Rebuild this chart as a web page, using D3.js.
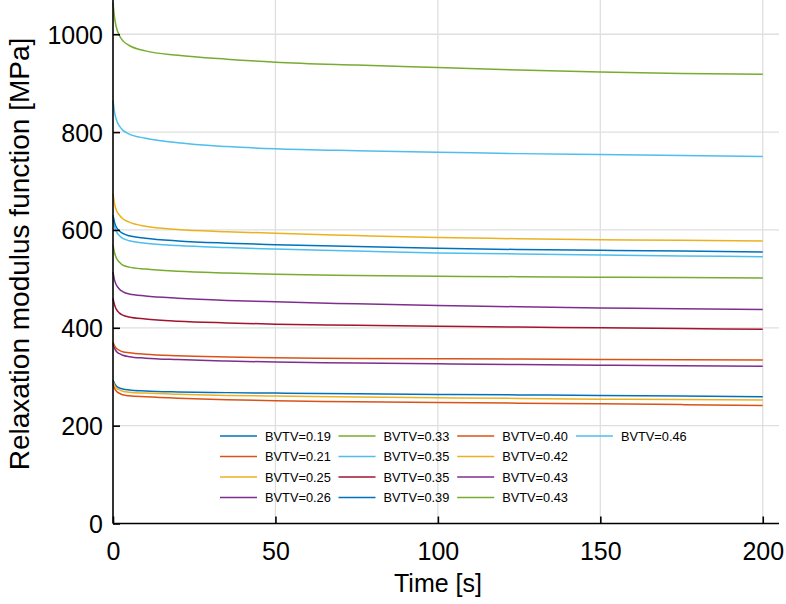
<!DOCTYPE html>
<html><head><meta charset="utf-8">
<script src="https://cdn.jsdelivr.net/npm/d3@7"></script>
<style>
html,body{margin:0;padding:0;background:#fff;}
svg{display:block;font-family:"Liberation Sans",Arial,Helvetica,sans-serif;}
</style></head>
<body>
<svg id="chart" width="786" height="604"></svg>
<script>
// ---- data ----
const times = [0, 0.5, 1, 2, 3, 5, 10, 20, 35, 50, 75, 100, 125, 150, 175, 200];
const seriesLabels = ["BVTV=0.19","BVTV=0.21","BVTV=0.25","BVTV=0.26","BVTV=0.33","BVTV=0.35","BVTV=0.35","BVTV=0.39","BVTV=0.40","BVTV=0.42","BVTV=0.43","BVTV=0.43","BVTV=0.46"];
const seriesColors = ["#0072BD","#D95319","#EDB120","#7E2F8E","#77AC30","#4DBEEE","#A2142F","#0072BD","#D95319","#EDB120","#7E2F8E","#77AC30","#4DBEEE"];
const bv019 = [293,286,281,277,275,273,271,269,267.5,266.5,265,263.8,262.8,261.8,260.5,259];
const bv021 = [286,276,271,266,263,261,259,256,253,250.8,249,247.5,246,244.6,243,241.4];
const bv025 = [290,282,277,273,270.5,268.5,266.5,264,261.8,260.4,258.6,257,255.6,254.2,253.2,252.2];
const bv026 = [368,358,352,347,344,341,338,335,332,330,328,326.4,325,323.7,322.6,321.6];
const bv033 = [569,553,543,534,528,524,520,515.5,512,509.5,507,505.4,504.5,503.4,502.7,502];
const bv035a = [622,606,597,588,583,578,573,568,564,561,557,553,551,549,547,545];
const bv035b = [460,446,438,430,426,422,418,413.5,410,407.5,405,403,401.5,400,398.5,397];
const bv039 = [630,615,606,598,593,588,583,577.5,573,570,566,562.5,560,558.5,557,555];
const bv040 = [371,363,358,354,351,349,346,343,340.5,338.7,337.5,336.6,336,335.3,334.7,334];
const bv042 = [674,653,641,630,623,616,607.5,601,596.5,593,588.5,584.5,582,580,579,577.5];
const bv043a = [514,497,488,479,474,469,465,460.5,456,453,449,445.6,443,440.7,439,437.4];
const bv043b = [1065,1033,1015,997,987,977,966,957,949,943,937,932,927,923,920,918];
const bv046 = [865,840,826,812,804,796,787.5,778,770.5,766,762,759,756,754,752,750];
const seriesValues = [bv019,bv021,bv025,bv026,bv033,bv035a,bv035b,bv039,bv040,bv042,bv043a,bv043b,bv046];
const xTicks = [0,50,100,150,200];
const yTicks = [0,200,400,600,800,1000];

// ---- layout ----
const svg = d3.select("#chart");
const L = 113, R = 779, T = 0, B = 523.5;
const x = d3.scaleLinear().domain([0,205]).range([L,R]);
const y = d3.scaleLinear().domain([0,1070]).range([B,T]);

// grid
const grid = svg.append("g");
grid.selectAll("line.gx").data(xTicks.filter(d=>d>0)).join("line")
  .attr("x1",d=>x(d)).attr("x2",d=>x(d)).attr("y1",T).attr("y2",B)
  .attr("stroke","#dfdfdf").attr("stroke-width",1.3);
grid.selectAll("line.gy").data(yTicks.filter(d=>d>0)).join("line")
  .attr("x1",L).attr("x2",R).attr("y1",d=>y(d)).attr("y2",d=>y(d))
  .attr("stroke","#dfdfdf").attr("stroke-width",1.3);

// lines
const line = d3.line().x((d,i)=>x(times[i])).y(d=>y(d)).curve(d3.curveMonotoneX);
svg.append("g").selectAll("path").data(seriesValues).join("path")
  .attr("d",d=>line(d)).attr("fill","none")
  .attr("stroke",(d,i)=>seriesColors[i]).attr("stroke-width",1.5);

// axes
const fmt = d3.format("d");
const xAxis = d3.axisBottom(x).tickValues(xTicks).tickFormat(fmt).tickSizeInner(-7).tickSizeOuter(0).tickPadding(19);
const gx = svg.append("g").attr("transform",`translate(0,${B})`).call(xAxis);
const yAxis = d3.axisLeft(y).tickValues(yTicks).tickFormat(fmt).tickSizeInner(-7).tickSizeOuter(0).tickPadding(10);
const gy = svg.append("g").attr("transform",`translate(${L},0)`).call(yAxis);
[gx,gy].forEach(g=>{
  g.select(".domain").attr("stroke","#000").attr("stroke-width",1.6);
  g.selectAll(".tick line").attr("stroke","#000").attr("stroke-width",1.6);
  g.selectAll(".tick text").attr("fill","#000").style("font-size","25px")
   .style("font-family",'"Liberation Sans",Arial,sans-serif');
});
gy.selectAll(".tick text").attr("dy","0.36em");
gx.select(".domain").attr("d",`M${L},0H${R}`);
gy.select(".domain").attr("d",`M0,${B}V${T}`);

// axis titles
svg.append("text").attr("x",438).attr("y",592).attr("text-anchor","middle")
  .style("font-size","25px").text("Time [s]");
svg.append("text").attr("transform","translate(29,254) rotate(-90)").attr("text-anchor","middle")
  .style("font-size","28px").text("Relaxation modulus function [MPa]");

// legend
const lg = svg.append("g");
const colX = [220, 338.5, 457.2, 575.9];
const rowY = [436, 456.5, 477, 497.5];
seriesLabels.forEach((lab,i)=>{
  const c = Math.floor(i/4), r = i%4;
  lg.append("line").attr("x1",colX[c]).attr("x2",colX[c]+37)
    .attr("y1",rowY[r]).attr("y2",rowY[r]).attr("stroke",seriesColors[i]).attr("stroke-width",1.5);
  lg.append("text").attr("x",colX[c]+45).attr("y",rowY[r]).attr("dy","0.36em")
    .style("font-size","12.8px").attr("fill","#000").text(lab);
});
</script>
</body></html>
